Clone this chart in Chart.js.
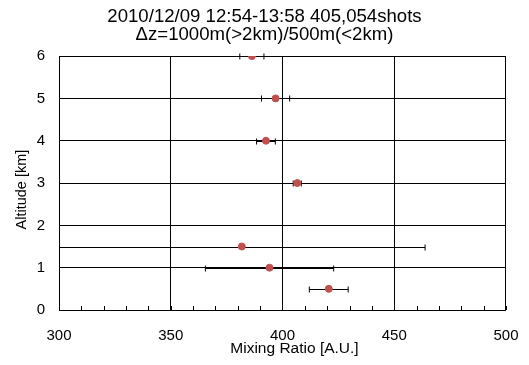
<!DOCTYPE html>
<html>
<head>
<meta charset="utf-8">
<script src="https://cdn.jsdelivr.net/npm/chart.js@4"></script>
<style>
  html, body { margin: 0; padding: 0; background: #fff; }
  #wrap { width: 529px; height: 365px; }
</style>
</head>
<body>
<div id="wrap"><canvas id="chart" width="529" height="365"></canvas></div>
<script>
// altitude [km] of each sample, mixing ratio and half-width of the error bar
const altitudes = [0.5, 1, 1.5, 3, 4, 5, 6];
const mixingRatio = [420.7, 394.2, 381.8, 406.6, 392.6, 396.9, 386.3];
const errors = [8.7, 28.7, 82, 1.8, 4.2, 6.3, 5.4];

const titleLines = ['2010/12/09 12:54-13:58 405,054shots', '\u0394z=1000m(>2km)/500m(<2km)'];
const xLabelTicks = [300, 350, 400, 450, 500];
const xTitle = 'Mixing Ratio [A.U.]';
const yTitle = 'Altitude [km]';

const FONT = "'Liberation Sans', Arial, sans-serif";

// draws the horizontal error bars behind the points
const errorBars = {
    id: 'errorBars',
    beforeDatasetsDraw(chart) {
        const { ctx, chartArea, scales } = chart;
        ctx.save();
        ctx.beginPath();
        ctx.rect(chartArea.left, chartArea.top - 5, chartArea.right - chartArea.left, chartArea.bottom - chartArea.top + 10);
        ctx.clip();
        ctx.strokeStyle = '#000';
        ctx.lineWidth = 1;
        altitudes.forEach((alt, i) => {
            const y = Math.round(scales.y.getPixelForValue(alt)) + 0.5;
            const x1 = scales.x.getPixelForValue(mixingRatio[i] - errors[i]);
            const x2 = scales.x.getPixelForValue(mixingRatio[i] + errors[i]);
            ctx.beginPath();
            ctx.moveTo(x1, y);
            ctx.lineTo(x2, y);
            [x1, x2].forEach(x => {
                ctx.moveTo(x, y - 3);
                ctx.lineTo(x, y + 3);
            });
            ctx.stroke();
        });
        ctx.restore();
    }
};

// small inward ticks along the bottom axis every 10 units, plus the axis titles
// (the original has them slightly off-centre, so they are drawn by hand)
const axisExtras = {
    id: 'axisExtras',
    afterDatasetsDraw(chart) {
        const { ctx, chartArea, scales } = chart;
        ctx.save();
        ctx.strokeStyle = '#000';
        ctx.lineWidth = 1;
        ctx.beginPath();
        scales.x.ticks.forEach(t => {
            const x = Math.round(scales.x.getPixelForValue(t.value)) + 0.5;
            ctx.moveTo(x, chartArea.bottom);
            ctx.lineTo(x, chartArea.bottom - 4);
        });
        ctx.stroke();

        ctx.fillStyle = '#000';
        ctx.textAlign = 'center';
        ctx.textBaseline = 'middle';
        ctx.font = '15.5px ' + FONT;
        ctx.fillText(xTitle, (chartArea.left + chartArea.right) / 2 + 12, chartArea.bottom + 39);

        ctx.translate(21.5, (chartArea.top + chartArea.bottom) / 2 + 6.5);
        ctx.rotate(-Math.PI / 2);
        ctx.font = '14.5px ' + FONT;
        ctx.fillText(yTitle, 0, 0);
        ctx.restore();
    }
};

new Chart(document.getElementById('chart'), {
    type: 'scatter',
    data: {
        datasets: [{
            data: altitudes.map((a, i) => ({ x: mixingRatio[i], y: a })),
            backgroundColor: '#C0504D',
            borderColor: '#C0504D',
            pointRadius: 3.5,
            pointHoverRadius: 3.5
        }]
    },
    options: {
        responsive: false,
        animation: false,
        layout: { padding: 0 },
        plugins: {
            legend: { display: false },
            tooltip: { enabled: false },
            title: {
                display: true,
                text: titleLines,
                color: '#000',
                font: { family: FONT, size: 18.6, weight: 'normal', lineHeight: 0.97 },
                padding: { top: 8, bottom: 12 }
            }
        },
        scales: {
            x: {
                min: 300,
                max: 500,
                afterFit(scale) { scale.height = 55; },
                border: { display: false },
                grid: {
                    color: ctx => xLabelTicks.includes(ctx.tick.value) ? '#000' : 'rgba(0,0,0,0)',
                    lineWidth: 1,
                    tickLength: 6.5,
                    tickColor: 'rgba(0,0,0,0)'
                },
                ticks: {
                    stepSize: 10,
                    autoSkip: false,
                    maxRotation: 0,
                    padding: 10.5,
                    color: '#000',
                    font: { family: FONT, size: 15 },
                    callback: v => xLabelTicks.includes(v) ? String(v) : ''
                }
            },
            y: {
                min: 0,
                max: 6,
                afterFit(scale) { scale.width = 59; },
                border: { display: false },
                grid: { color: '#000', lineWidth: 1, drawTicks: false },
                ticks: {
                    stepSize: 1,
                    padding: 14,
                    color: '#000',
                    font: { family: FONT, size: 15 }
                }
            }
        }
    },
    plugins: [errorBars, axisExtras]
});
</script>
</body>
</html>
